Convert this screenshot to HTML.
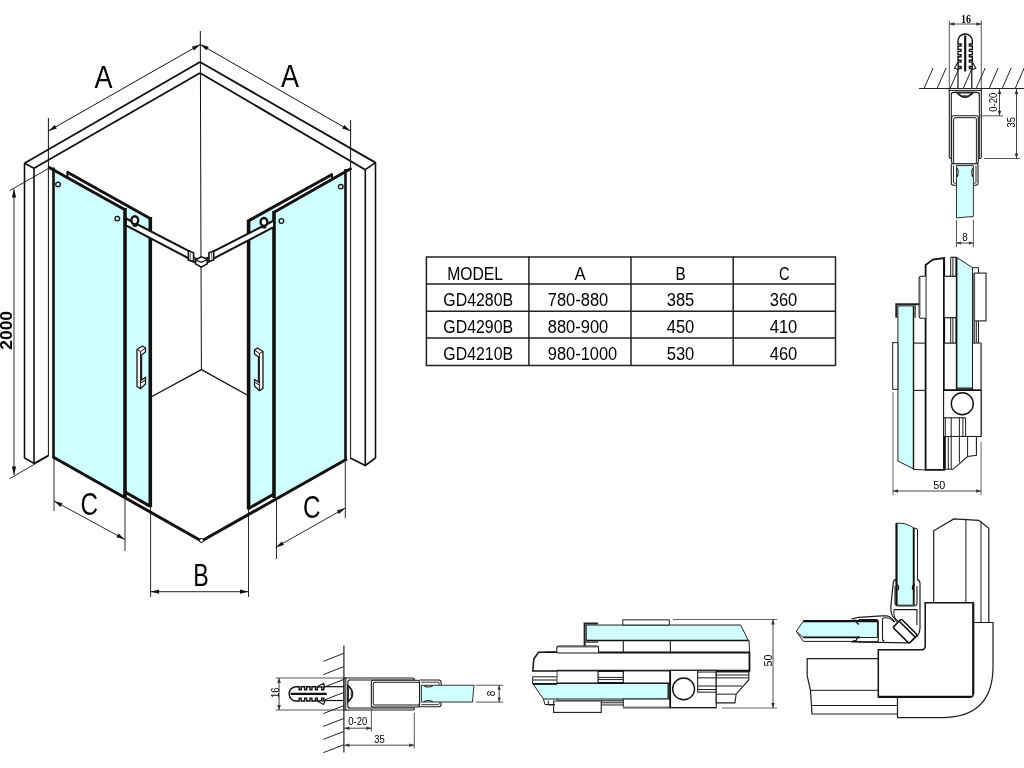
<!DOCTYPE html>
<html><head><meta charset="utf-8"><style>
html,body{margin:0;padding:0;background:#fff;width:1024px;height:768px;overflow:hidden}
svg{display:block;will-change:transform}
</style></head><body>
<svg width="1024" height="768" viewBox="0 0 1024 768" stroke-linecap="butt">
<line x1="24.5" y1="163.3" x2="200" y2="62" stroke="#111" stroke-width="1.8"/>
<line x1="34" y1="168.3" x2="200" y2="73" stroke="#111" stroke-width="1.8"/>
<line x1="24.5" y1="163.3" x2="34" y2="168.3" stroke="#111" stroke-width="1.6"/>
<line x1="24.5" y1="163.3" x2="24.5" y2="458" stroke="#111" stroke-width="1.6"/>
<line x1="34" y1="168.3" x2="34" y2="463.4" stroke="#111" stroke-width="1.6"/>
<polyline points="24.5,458 34,463.4 48.4,455.5" fill="none" stroke="#111" stroke-width="1.6" />
<line x1="375.5" y1="162.6" x2="200" y2="62" stroke="#111" stroke-width="1.8"/>
<line x1="365.3" y1="169.7" x2="200" y2="73" stroke="#111" stroke-width="1.8"/>
<line x1="365.3" y1="169.7" x2="375.5" y2="162.6" stroke="#111" stroke-width="1.6"/>
<line x1="375.5" y1="162.6" x2="375.5" y2="458" stroke="#111" stroke-width="1.6"/>
<line x1="365.3" y1="169.7" x2="365.3" y2="465.5" stroke="#111" stroke-width="1.6"/>
<polyline points="375.5,458 365.3,465.5 350.2,458" fill="none" stroke="#111" stroke-width="1.6" />
<line x1="48.4" y1="118" x2="48.4" y2="456" stroke="#111" stroke-width="1"/>
<line x1="350.6" y1="120" x2="350.6" y2="458" stroke="#111" stroke-width="1"/>
<line x1="200.3" y1="31" x2="200.98" y2="256.8" stroke="#111" stroke-width="1"/>
<line x1="201.04" y1="267" x2="201.4" y2="370" stroke="#111" stroke-width="1"/>
<line x1="201.4" y1="369.6" x2="151" y2="397" stroke="#111" stroke-width="1.4"/>
<line x1="201.4" y1="369.6" x2="249" y2="396" stroke="#111" stroke-width="1.4"/>
<polygon points="53,168 125,209.8 125,497 53,457" fill="#d0fdfd" stroke="none" stroke-width="0" />
<line x1="48.3" y1="167" x2="125" y2="209.8" stroke="#111" stroke-width="3"/>
<line x1="53.5" y1="167.5" x2="53.5" y2="458" stroke="#111" stroke-width="2.6"/>
<circle cx="58" cy="184.4" r="2.3" fill="none" stroke="#111" stroke-width="1.3"/>
<circle cx="117.3" cy="218.6" r="2.3" fill="none" stroke="#111" stroke-width="1.3"/>
<polygon points="125,203.5 150,217.6 150,506.5 125,492" fill="#d0fdfd" stroke="none" stroke-width="0" />
<line x1="67" y1="172" x2="151.5" y2="219.2" stroke="#111" stroke-width="3"/>
<line x1="67.5" y1="171" x2="67.5" y2="177" stroke="#111" stroke-width="2"/>
<line x1="125" y1="208" x2="125" y2="498" stroke="#111" stroke-width="3.6"/>
<line x1="150.3" y1="217" x2="150.3" y2="507" stroke="#111" stroke-width="3.6"/>
<line x1="125" y1="492" x2="150.3" y2="506.4" stroke="#111" stroke-width="3"/>
<path d="M137,349.5 L142.5,346 L145.5,348 L145.5,352 L141.5,355 L141.5,380 L145.5,377.5 L145.5,384 L140.6,388.6 L137,386.5 Z" fill="#f4f4f4" stroke="#1a1a1a" stroke-width="1.3" />
<path d="M137,349.5 L140.6,351.5 L145.5,348 M140.6,351.5 L140.6,388.6 M140.6,383 L145.5,380" fill="none" stroke="#1a1a1a" stroke-width="1" />
<polygon points="274.6,212 345.5,171 345.5,459 274.6,498.3" fill="#d0fdfd" stroke="none" stroke-width="0" />
<line x1="274" y1="212.2" x2="351.5" y2="168.2" stroke="#111" stroke-width="3"/>
<line x1="345.5" y1="169" x2="345.5" y2="459.5" stroke="#111" stroke-width="2.6"/>
<circle cx="340.8" cy="186.6" r="2.3" fill="none" stroke="#111" stroke-width="1.3"/>
<circle cx="281.4" cy="221" r="2.3" fill="none" stroke="#111" stroke-width="1.3"/>
<polygon points="274,205.5 248.6,220 248.6,509 274,494" fill="#d0fdfd" stroke="none" stroke-width="0" />
<line x1="332.5" y1="174.2" x2="247.5" y2="221.4" stroke="#111" stroke-width="3"/>
<line x1="332" y1="173.5" x2="332" y2="179" stroke="#111" stroke-width="2"/>
<line x1="274" y1="211" x2="274" y2="498" stroke="#111" stroke-width="3.6"/>
<line x1="248.6" y1="220" x2="248.6" y2="509.5" stroke="#111" stroke-width="3.6"/>
<line x1="248.6" y1="508.5" x2="274" y2="494" stroke="#111" stroke-width="3"/>
<path d="M263,351.5 L257.5,348 L254.5,350 L254.5,354 L258.5,357 L258.5,382 L254.5,379.5 L254.5,386 L259.4,390.6 L263,388.5 Z" fill="#f4f4f4" stroke="#1a1a1a" stroke-width="1.3" />
<path d="M263,351.5 L259.4,353.5 L254.5,350 M259.4,353.5 L259.4,390.6 M259.4,385 L254.5,382" fill="none" stroke="#1a1a1a" stroke-width="1" />
<polygon points="126,218.5 189,251 189,258.5 126,225.5" fill="#fff" stroke="#111" stroke-width="2.0" />
<polygon points="274,220.5 213,251.5 213,258.8 274,227" fill="#fff" stroke="#111" stroke-width="2.0" />
<ellipse cx="134.8" cy="220.3" rx="3.4" ry="4.0" fill="#fff" stroke="#111" stroke-width="2.4"/>
<ellipse cx="264" cy="222" rx="3.4" ry="4.0" fill="#fff" stroke="#111" stroke-width="2.4"/>
<ellipse cx="135" cy="225.5" rx="2.5" ry="1.6" fill="#111"/>
<ellipse cx="264" cy="227" rx="2.5" ry="1.6" fill="#111"/>
<polygon points="192.5,256.5 196,258.5 196,263 192.5,261.5" fill="#fff" stroke="#111" stroke-width="1.4" />
<polygon points="209.5,256.5 206,258.5 206,263 209.5,261.5" fill="#fff" stroke="#111" stroke-width="1.4" />
<polygon points="188.4,250.8 193.6,252.7 193.6,261.6 188.4,260.1" fill="#fff" stroke="#111" stroke-width="1.6" />
<polygon points="213.7,251 209,252.7 209,261.6 213.7,260" fill="#fff" stroke="#111" stroke-width="1.6" />
<line x1="190.5" y1="253" x2="190.5" y2="259.5" stroke="#777" stroke-width="1.2"/>
<line x1="211.6" y1="253" x2="211.6" y2="259.5" stroke="#777" stroke-width="1.2"/>
<polygon points="195.5,259.7 201.3,256.8 207.2,258.9 207.2,263.9 201.3,267.2 195.5,263.9" fill="#fff" stroke="#111" stroke-width="1.6" />
<polyline points="195.5,259.7 201.3,262.4 207.2,259.5" fill="none" stroke="#111" stroke-width="1.2" />
<polyline points="53,457 201.5,541 347,459" fill="none" stroke="#111" stroke-width="3" />
<circle cx="201.5" cy="540.5" r="2" fill="#fff" stroke="#111" stroke-width="1"/>
<line x1="48.4" y1="131" x2="200.3" y2="44.4" stroke="#111" stroke-width="1"/>
<polygon points="48.4,131.0 54.7,125.0 56.8,128.6" fill="#111"/>
<polygon points="200.3,44.4 194.0,50.4 191.9,46.8" fill="#111"/>
<line x1="200.3" y1="44.4" x2="350.6" y2="131" stroke="#111" stroke-width="1"/>
<polygon points="200.3,44.4 208.7,46.8 206.6,50.5" fill="#111"/>
<polygon points="350.6,131.0 342.2,128.6 344.3,124.9" fill="#111"/>
<text x="103.5" y="87.6" font-family="Liberation Sans" font-size="31" font-weight="normal" text-anchor="middle" fill="#000" textLength="18" lengthAdjust="spacingAndGlyphs">A</text>
<text x="290" y="87.4" font-family="Liberation Sans" font-size="31" font-weight="normal" text-anchor="middle" fill="#000" textLength="18" lengthAdjust="spacingAndGlyphs">A</text>
<line x1="9.7" y1="190.6" x2="48.4" y2="168.5" stroke="#111" stroke-width="0.9"/>
<line x1="9.7" y1="478.6" x2="48.4" y2="456.2" stroke="#111" stroke-width="0.9"/>
<line x1="14" y1="189" x2="14" y2="475" stroke="#111" stroke-width="0.9"/>
<polygon points="14.0,189.0 16.1,197.5 11.9,197.5" fill="#111"/>
<polygon points="14.0,475.0 11.9,466.5 16.1,466.5" fill="#111"/>
<text x="11.8" y="330.3" font-family="Liberation Sans" font-size="17" font-weight="bold" text-anchor="middle" fill="#000" textLength="38.7" lengthAdjust="spacingAndGlyphs" transform="rotate(-90 11.8 330.3)">2000</text>
<line x1="54" y1="458" x2="54" y2="511" stroke="#111" stroke-width="0.9"/>
<line x1="125" y1="497" x2="125" y2="551" stroke="#111" stroke-width="0.9"/>
<line x1="54" y1="501" x2="125" y2="539.5" stroke="#111" stroke-width="0.9"/>
<polygon points="54.0,501.0 62.5,503.2 60.5,506.9" fill="#111"/>
<polygon points="125.0,539.5 116.5,537.3 118.5,533.6" fill="#111"/>
<text x="89.3" y="515.3" font-family="Liberation Sans" font-size="31" font-weight="normal" text-anchor="middle" fill="#000" textLength="17.5" lengthAdjust="spacingAndGlyphs">C</text>
<line x1="150.6" y1="507" x2="150.6" y2="597" stroke="#111" stroke-width="0.9"/>
<line x1="248.5" y1="509" x2="248.5" y2="597" stroke="#111" stroke-width="0.9"/>
<line x1="150.6" y1="591.7" x2="248.5" y2="591.7" stroke="#111" stroke-width="0.9"/>
<polygon points="150.6,591.7 159.1,589.6 159.1,593.8" fill="#111"/>
<polygon points="248.5,591.7 240.0,593.8 240.0,589.6" fill="#111"/>
<text x="201" y="586" font-family="Liberation Sans" font-size="31" font-weight="normal" text-anchor="middle" fill="#000" textLength="15.5" lengthAdjust="spacingAndGlyphs">B</text>
<line x1="345.3" y1="462" x2="345.3" y2="518" stroke="#111" stroke-width="0.9"/>
<line x1="276.5" y1="500" x2="276.5" y2="559" stroke="#111" stroke-width="0.9"/>
<line x1="345.3" y1="508" x2="275.5" y2="547.5" stroke="#111" stroke-width="0.9"/>
<polygon points="345.3,508.0 338.9,514.0 336.9,510.4" fill="#111"/>
<polygon points="275.5,547.5 281.9,541.5 283.9,545.1" fill="#111"/>
<text x="311.8" y="518.4" font-family="Liberation Sans" font-size="31" font-weight="normal" text-anchor="middle" fill="#000" textLength="17.5" lengthAdjust="spacingAndGlyphs">C</text>
<line x1="426.4" y1="256.40000000000003" x2="426.4" y2="366.09999999999997" stroke="#222" stroke-width="1.5"/>
<line x1="528.9" y1="256.40000000000003" x2="528.9" y2="366.09999999999997" stroke="#222" stroke-width="1.5"/>
<line x1="631" y1="256.40000000000003" x2="631" y2="366.09999999999997" stroke="#222" stroke-width="1.5"/>
<line x1="733.2" y1="256.40000000000003" x2="733.2" y2="366.09999999999997" stroke="#222" stroke-width="1.5"/>
<line x1="835.5" y1="256.40000000000003" x2="835.5" y2="366.09999999999997" stroke="#222" stroke-width="1.5"/>
<line x1="426.4" y1="257.1" x2="835.5" y2="257.1" stroke="#222" stroke-width="1.5"/>
<line x1="426.4" y1="284" x2="835.5" y2="284" stroke="#222" stroke-width="1.5"/>
<line x1="426.4" y1="311.2" x2="835.5" y2="311.2" stroke="#222" stroke-width="1.5"/>
<line x1="426.4" y1="338.1" x2="835.5" y2="338.1" stroke="#222" stroke-width="1.5"/>
<line x1="426.4" y1="365.4" x2="835.5" y2="365.4" stroke="#222" stroke-width="1.5"/>
<text x="475.1" y="280.1" font-family="Liberation Sans" font-size="18" font-weight="normal" text-anchor="middle" fill="#000" textLength="55.8" lengthAdjust="spacingAndGlyphs">MODEL</text>
<text x="580" y="280.1" font-family="Liberation Sans" font-size="18" font-weight="normal" text-anchor="middle" fill="#000" textLength="11.2" lengthAdjust="spacingAndGlyphs">A</text>
<text x="680.6" y="280.1" font-family="Liberation Sans" font-size="18" font-weight="normal" text-anchor="middle" fill="#000" textLength="10.2" lengthAdjust="spacingAndGlyphs">B</text>
<text x="784.2" y="280.1" font-family="Liberation Sans" font-size="18" font-weight="normal" text-anchor="middle" fill="#000" textLength="10.6" lengthAdjust="spacingAndGlyphs">C</text>
<text x="478.2" y="306.3" font-family="Liberation Sans" font-size="18" font-weight="normal" text-anchor="middle" fill="#000" textLength="69.8" lengthAdjust="spacingAndGlyphs">GD4280B</text>
<text x="578" y="306.3" font-family="Liberation Sans" font-size="18" font-weight="normal" text-anchor="middle" fill="#000" textLength="60.5" lengthAdjust="spacingAndGlyphs">780-880</text>
<text x="680.5" y="306.3" font-family="Liberation Sans" font-size="18" font-weight="normal" text-anchor="middle" fill="#000" textLength="27.6" lengthAdjust="spacingAndGlyphs">385</text>
<text x="783.5" y="306.3" font-family="Liberation Sans" font-size="18" font-weight="normal" text-anchor="middle" fill="#000" textLength="27.6" lengthAdjust="spacingAndGlyphs">360</text>
<text x="478.2" y="332.9" font-family="Liberation Sans" font-size="18" font-weight="normal" text-anchor="middle" fill="#000" textLength="69.8" lengthAdjust="spacingAndGlyphs">GD4290B</text>
<text x="578" y="332.9" font-family="Liberation Sans" font-size="18" font-weight="normal" text-anchor="middle" fill="#000" textLength="60.5" lengthAdjust="spacingAndGlyphs">880-900</text>
<text x="680.5" y="332.9" font-family="Liberation Sans" font-size="18" font-weight="normal" text-anchor="middle" fill="#000" textLength="27.6" lengthAdjust="spacingAndGlyphs">450</text>
<text x="783.5" y="332.9" font-family="Liberation Sans" font-size="18" font-weight="normal" text-anchor="middle" fill="#000" textLength="27.6" lengthAdjust="spacingAndGlyphs">410</text>
<text x="478.2" y="359.6" font-family="Liberation Sans" font-size="18" font-weight="normal" text-anchor="middle" fill="#000" textLength="69.8" lengthAdjust="spacingAndGlyphs">GD4210B</text>
<text x="582.5" y="359.6" font-family="Liberation Sans" font-size="18" font-weight="normal" text-anchor="middle" fill="#000" textLength="69.5" lengthAdjust="spacingAndGlyphs">980-1000</text>
<text x="680.5" y="359.6" font-family="Liberation Sans" font-size="18" font-weight="normal" text-anchor="middle" fill="#000" textLength="27.6" lengthAdjust="spacingAndGlyphs">530</text>
<text x="783.5" y="359.6" font-family="Liberation Sans" font-size="18" font-weight="normal" text-anchor="middle" fill="#000" textLength="27.6" lengthAdjust="spacingAndGlyphs">460</text>
<defs>
<g id="d1">
<line x1="949.3" y1="20.8" x2="949.3" y2="88.5" stroke="#444" stroke-width="0.9"/>
<line x1="981.3" y1="20.8" x2="981.3" y2="88.5" stroke="#444" stroke-width="0.9"/>
<line x1="949.3" y1="24" x2="981.3" y2="24" stroke="#333" stroke-width="0.9"/>
<polygon points="949.3,24.0 954.3,22.2 954.3,25.8" fill="#333"/>
<polygon points="981.3,24.0 976.3,25.8 976.3,22.2" fill="#333"/>
<path d="M958,70 L958,68.5 L961,68.5 L961,66.5 L958,66.5 L958,62.1 L961,62.1 L961,60.2 L958,60.2 L958,56.7 L961,56.7 L961,54.8 L958,54.8 L958,51.4 L961,51.4 L961,49.4 L958,49.4 L958,46 L961,46 L961,44 L958,44 L958,41.1 A7.15,7.15 0 0 1 972.3,41.1 L972.3,44 L969.4,44 L969.4,46 L972.3,46 L972.3,49.4 L969.4,49.4 L969.4,51.4 L972.3,51.4 L972.3,54.8 L969.4,54.8 L969.4,56.7 L972.3,56.7 L972.3,60.2 L969.4,60.2 L969.4,62.1 L972.3,62.1 L972.3,66.5 L969.4,66.5 L969.4,68.5 L972.3,68.5 L972.3,70" fill="#fff" stroke="#111" stroke-width="1.4" />
<line x1="965.2" y1="35.5" x2="965.2" y2="71.4" stroke="#111" stroke-width="2.2"/>
<polygon points="958,62 954.5,68.3 958,69.5" fill="#fff" stroke="#1c1c1c" stroke-width="1.1" />
<polygon points="972.3,62 975.8,68.3 972.3,69.5" fill="#fff" stroke="#1c1c1c" stroke-width="1.1" />
<line x1="958" y1="70" x2="958" y2="88.5" stroke="#111" stroke-width="1.2"/>
<line x1="971.8" y1="70" x2="971.8" y2="88.5" stroke="#111" stroke-width="1.2"/>
<path d="M949.3,88.5 L949.3,157 Q949.3,158.5 950.3,158.5 L951.3,158.5 L951.3,93.5" fill="none" stroke="#1c1c1c" stroke-width="1.1" />
<path d="M981.3,88.5 L981.3,157 Q981.3,158.5 980.3,158.5 L979.3,158.5 L979.3,93.5" fill="none" stroke="#1c1c1c" stroke-width="1.1" />
<rect x="949.3" y="88.5" width="32" height="1.9" rx="0" fill="#fff" stroke="#1c1c1c" stroke-width="1"/>
<path d="M951.3,94.5 Q951.3,92.4 953.3,92.4 L977.3,92.4 Q979.3,92.4 979.3,94.5" fill="none" stroke="#1c1c1c" stroke-width="1.1" />
<path d="M957,92.6 Q965,101.5 973,92.6 Z" fill="#fff" stroke="#222" stroke-width="1.8" />
<path d="M961,96.5 Q965,94.5 969,96.5" fill="none" stroke="#1c1c1c" stroke-width="0.8" />
<rect x="951.6" y="115.8" width="26.7" height="48" rx="2" fill="#fff" stroke="#1c1c1c" stroke-width="1.1"/>
<rect x="953.6" y="117.7" width="22.8" height="46" rx="1.5" fill="#fff" stroke="#1c1c1c" stroke-width="1"/>
<path d="M951.3,163.7 L951.3,183 Q951.3,185.2 953.5,185.2 L956.5,185.2 M973.4,185.2 L975.8,185.2 Q978,185.2 978,183 L978,163.7" fill="none" stroke="#1c1c1c" stroke-width="1.1" />
<path d="M953.5,165.5 L953.5,182 Q953.5,183.2 954.5,183.2 L956.5,183.2 M973.4,183.2 L975,183.2 Q976,183.2 976,182 L976,165.5" fill="none" stroke="#1c1c1c" stroke-width="0.9" />
<path d="M956.5,165.6 L973.4,165.6 L973.4,216.5 Q965,217 956.5,218 Z" fill="#d0fdfd" stroke="#333" stroke-width="1" />
<path d="M957,168 Q959.5,172 957,177 M973,168 Q970.5,172 973,177" fill="none" stroke="#222" stroke-width="1.1" />
<line x1="980" y1="115.8" x2="1003" y2="115.8" stroke="#444" stroke-width="0.9"/>
<line x1="999.5" y1="89" x2="999.5" y2="115.8" stroke="#333" stroke-width="0.9"/>
<polygon points="999.5,89.0 1001.3,94.0 997.7,94.0" fill="#333"/>
<polygon points="999.5,115.8 997.7,110.8 1001.3,110.8" fill="#333"/>
<line x1="984" y1="158.5" x2="1020" y2="158.5" stroke="#444" stroke-width="0.9"/>
<line x1="1016.5" y1="89" x2="1016.5" y2="158.5" stroke="#333" stroke-width="0.9"/>
<polygon points="1016.5,89.0 1018.3,94.0 1014.7,94.0" fill="#333"/>
<polygon points="1016.5,158.5 1014.7,153.5 1018.3,153.5" fill="#333"/>
<line x1="956.5" y1="220" x2="956.5" y2="247" stroke="#444" stroke-width="0.9"/>
<line x1="973.4" y1="220" x2="973.4" y2="247" stroke="#444" stroke-width="0.9"/>
<line x1="956.5" y1="243" x2="973.4" y2="243" stroke="#333" stroke-width="0.9"/>
<polygon points="956.5,243.0 961.0,241.4 961.0,244.6" fill="#333"/>
<polygon points="973.4,243.0 968.9,244.6 968.9,241.4" fill="#333"/>
</g>
<g id="d2">
<path d="M925.6,469.9 L925.6,265 L932.8,259.5 L944.1,258.1 L944.1,469.9 Z" fill="#fff" stroke="#111" stroke-width="1.8" />
<line x1="944.1" y1="258.1" x2="944.1" y2="469.9" stroke="#111" stroke-width="2"/>
<path d="M956.4,257.3 L972.5,267.7 L972.5,388 L956.4,388 Z" fill="#d0fdfd" stroke="#222" stroke-width="1" />
<line x1="956.4" y1="257.3" x2="956.4" y2="388" stroke="#111" stroke-width="2"/>
<path d="M955.4,375.3 L955.4,389 L974,389 L974,375.3" fill="none" stroke="#222" stroke-width="1.6" />
<line x1="950.7" y1="257.3" x2="950.7" y2="276.3" stroke="#1c1c1c" stroke-width="1"/>
<line x1="952.9" y1="257.3" x2="952.9" y2="276.3" stroke="#1c1c1c" stroke-width="1"/>
<line x1="950.7" y1="257.3" x2="956.4" y2="257.3" stroke="#1c1c1c" stroke-width="1.2"/>
<rect x="944.1" y="276.3" width="12.3" height="41.4" rx="0" fill="#fff" stroke="#1c1c1c" stroke-width="1.2"/>
<line x1="950.7" y1="317.7" x2="950.7" y2="343.1" stroke="#1c1c1c" stroke-width="1"/>
<line x1="952.9" y1="317.7" x2="952.9" y2="343.1" stroke="#1c1c1c" stroke-width="1"/>
<rect x="944.1" y="343.1" width="12.3" height="47" rx="0" fill="#fff" stroke="#1c1c1c" stroke-width="1.2"/>
<path d="M972.5,267.7 L978.5,267.7 L978.5,273.1" fill="none" stroke="#1c1c1c" stroke-width="1" />
<rect x="974.2" y="273.1" width="11.8" height="47.8" rx="0" fill="#fff" stroke="#1c1c1c" stroke-width="1.1"/>
<line x1="974.2" y1="273.1" x2="974.2" y2="343" stroke="#555" stroke-width="1.8"/>
<line x1="976.3" y1="320.9" x2="976.3" y2="343.1" stroke="#1c1c1c" stroke-width="1"/>
<line x1="978.5" y1="320.9" x2="978.5" y2="343.1" stroke="#1c1c1c" stroke-width="1"/>
<rect x="972.5" y="343.1" width="8.8" height="47.2" rx="0" fill="#fff" stroke="#1c1c1c" stroke-width="1"/>
<line x1="981.1" y1="343.1" x2="981.1" y2="436.5" stroke="#777" stroke-width="2"/>
<rect x="943.6" y="390.3" width="37.5" height="46.2" rx="0" fill="#fff" stroke="#1c1c1c" stroke-width="1.1"/>
<line x1="944.1" y1="390.3" x2="981.1" y2="390.3" stroke="#111" stroke-width="1.6"/>
<circle cx="962.3" cy="403.7" r="11" fill="#fff" stroke="#111" stroke-width="1.4"/>
<line x1="943.6" y1="417.8" x2="965.6" y2="417.8" stroke="#1c1c1c" stroke-width="1.1"/>
<line x1="945.3" y1="417.8" x2="945.3" y2="436.5" stroke="#1c1c1c" stroke-width="1"/>
<line x1="951.2" y1="417.8" x2="951.2" y2="436.5" stroke="#1c1c1c" stroke-width="1"/>
<line x1="959.4" y1="417.8" x2="959.4" y2="436.5" stroke="#1c1c1c" stroke-width="1"/>
<line x1="962.9" y1="417.8" x2="962.9" y2="436.5" stroke="#1c1c1c" stroke-width="1"/>
<line x1="965.6" y1="417.8" x2="965.6" y2="436.5" stroke="#1c1c1c" stroke-width="1"/>
<path d="M945.3,436.5 L945.3,469.3 L953,469.3 L967.6,456.5 L976.4,455.3 L976.4,436.5 Z" fill="#fff" stroke="#1c1c1c" stroke-width="1.1" />
<line x1="948.3" y1="436.5" x2="948.3" y2="469.3" stroke="#1c1c1c" stroke-width="1"/>
<line x1="951.2" y1="436.5" x2="951.2" y2="469" stroke="#1c1c1c" stroke-width="1"/>
<line x1="959.4" y1="436.5" x2="959.4" y2="462.5" stroke="#1c1c1c" stroke-width="1"/>
<line x1="967.6" y1="436.5" x2="967.6" y2="456.5" stroke="#1c1c1c" stroke-width="1"/>
<path d="M925.6,276.3 L921,276.3 Q919.2,276.3 919.2,278.5 L919.2,316 Q919.2,318.2 921,318.2 L925.6,318.2" fill="#fff" stroke="#1c1c1c" stroke-width="1.1" />
<line x1="919.6" y1="278" x2="919.6" y2="316" stroke="#666" stroke-width="1.8"/>
<path d="M897.9,305.9 L913.5,305.9 L913.5,468.8 L897.9,461.1 Z" fill="#d0fdfd" stroke="#222" stroke-width="1" />
<line x1="913.5" y1="305.9" x2="913.5" y2="469" stroke="#111" stroke-width="1.4"/>
<path d="M896.3,317.7 L896.3,304.2 L919.2,304.2" fill="none" stroke="#222" stroke-width="2" />
<line x1="915.1" y1="304.2" x2="915.1" y2="317.7" stroke="#1c1c1c" stroke-width="1.2"/>
<line x1="913.5" y1="343.1" x2="925.6" y2="343.1" stroke="#1c1c1c" stroke-width="1.1"/>
<line x1="913.5" y1="390.4" x2="925.6" y2="390.4" stroke="#1c1c1c" stroke-width="1.1"/>
<path d="M913.1,469.5 L925.6,469.9" fill="none" stroke="#1c1c1c" stroke-width="1" />
<rect x="892.7" y="342.6" width="5.2" height="46.7" rx="0" fill="#fff" stroke="#1c1c1c" stroke-width="1"/>
</g>
</defs>
<use href="#d1"/>
<use href="#d2"/>
<use href="#d1" transform="matrix(0,1,1.005,0,254.96,-271.3)"/>
<use href="#d2" transform="matrix(0,0.992,0.9948,0,282.0,-265.7)"/>
<rect x="528" y="653.5" width="28.5" height="47" rx="0" fill="#fff" stroke="none" stroke-width="0"/>
<path d="M557,652.3 L538.5,652.3 L533.8,659 L532.8,671 L557,671" fill="#fff" stroke="#111" stroke-width="1.5" />
<path d="M557,676.8 L532.6,676.8 L532.6,683.8 L557,683.8 M532.6,680 L557,680" fill="none" stroke="#1c1c1c" stroke-width="1" />
<path d="M533,684 L558,684 L558,699 L543.4,699 Z" fill="#d0fdfd" stroke="none" stroke-width="0" />
<path d="M558,699 L543.4,699 L533,684" fill="none" stroke="#222" stroke-width="1" />
<line x1="533" y1="684" x2="557" y2="684" stroke="#111" stroke-width="1.8"/>
<path d="M543.4,699 L545,704.5 L555,704.5" fill="none" stroke="#1c1c1c" stroke-width="1" />
<line x1="919" y1="88.5" x2="1024" y2="88.5" stroke="#222" stroke-width="1.2"/>
<line x1="924.3" y1="88" x2="933.0999999999999" y2="68" stroke="#222" stroke-width="1"/>
<line x1="937.3" y1="88" x2="946.0999999999999" y2="68" stroke="#222" stroke-width="1"/>
<line x1="950.3" y1="88" x2="959.0999999999999" y2="68" stroke="#222" stroke-width="1"/>
<line x1="963.4" y1="88" x2="972.1999999999999" y2="68" stroke="#222" stroke-width="1"/>
<line x1="976.4" y1="88" x2="985.1999999999999" y2="68" stroke="#222" stroke-width="1"/>
<line x1="989.4" y1="88" x2="998.1999999999999" y2="68" stroke="#222" stroke-width="1"/>
<line x1="1002.4" y1="88" x2="1011.1999999999999" y2="68" stroke="#222" stroke-width="1"/>
<line x1="1015.4" y1="88" x2="1024.2" y2="68" stroke="#222" stroke-width="1"/>
<text x="966" y="22.8" font-family="Liberation Serif" font-size="11.5" font-weight="bold" text-anchor="middle" fill="#000" textLength="10" lengthAdjust="spacingAndGlyphs">16</text>
<text x="997.3" y="102.2" font-family="Liberation Sans" font-size="10.5" font-weight="normal" text-anchor="middle" fill="#000" textLength="19" lengthAdjust="spacingAndGlyphs" transform="rotate(-90 997.3 102.2)">0-20</text>
<text x="1015.3" y="122.3" font-family="Liberation Sans" font-size="10.5" font-weight="normal" text-anchor="middle" fill="#000" textLength="10.5" lengthAdjust="spacingAndGlyphs" transform="rotate(-90 1015.3 122.3)">35</text>
<text x="965" y="240.5" font-family="Liberation Sans" font-size="10.5" font-weight="normal" text-anchor="middle" fill="#000" textLength="5.5" lengthAdjust="spacingAndGlyphs">8</text>
<line x1="343.9" y1="645.5" x2="343.9" y2="752.5" stroke="#222" stroke-width="1.2"/>
<line x1="343.9" y1="653.3" x2="323.3" y2="661.3" stroke="#222" stroke-width="1"/>
<line x1="343.9" y1="666.6" x2="323.3" y2="674.6" stroke="#222" stroke-width="1"/>
<line x1="343.9" y1="679.4" x2="323.3" y2="687.4" stroke="#222" stroke-width="1"/>
<line x1="343.9" y1="692.4" x2="323.3" y2="700.4" stroke="#222" stroke-width="1"/>
<line x1="343.9" y1="705.6" x2="323.3" y2="713.6" stroke="#222" stroke-width="1"/>
<line x1="343.9" y1="718.4" x2="323.3" y2="726.4" stroke="#222" stroke-width="1"/>
<line x1="343.9" y1="731.4" x2="323.3" y2="739.4" stroke="#222" stroke-width="1"/>
<line x1="343.9" y1="744.7" x2="323.3" y2="752.7" stroke="#222" stroke-width="1"/>
<text x="279.5" y="692.8" font-family="Liberation Sans" font-size="10.5" font-weight="normal" text-anchor="middle" fill="#000" textLength="10.5" lengthAdjust="spacingAndGlyphs" transform="rotate(-90 279.5 692.8)">16</text>
<text x="357.7" y="725.2" font-family="Liberation Sans" font-size="10.5" font-weight="normal" text-anchor="middle" fill="#000" textLength="19" lengthAdjust="spacingAndGlyphs">0-20</text>
<text x="379.5" y="743.2" font-family="Liberation Sans" font-size="10.5" font-weight="normal" text-anchor="middle" fill="#000" textLength="10.5" lengthAdjust="spacingAndGlyphs">35</text>
<text x="494.5" y="693.5" font-family="Liberation Sans" font-size="10.5" font-weight="normal" text-anchor="middle" fill="#000" textLength="5.5" lengthAdjust="spacingAndGlyphs" transform="rotate(-90 494.5 693.5)">8</text>
<line x1="893" y1="392" x2="893" y2="495" stroke="#555" stroke-width="0.9"/>
<line x1="981.1" y1="442" x2="981.1" y2="495" stroke="#555" stroke-width="0.9"/>
<line x1="893" y1="491" x2="981.1" y2="491" stroke="#333" stroke-width="0.9"/>
<polygon points="893.0,491.0 898.0,489.2 898.0,492.8" fill="#333"/>
<polygon points="981.1,491.0 976.1,492.8 976.1,489.2" fill="#333"/>
<text x="939.2" y="489.3" font-family="Liberation Sans" font-size="11" font-weight="normal" text-anchor="middle" fill="#000" textLength="12" lengthAdjust="spacingAndGlyphs">50</text>
<line x1="673" y1="619.5" x2="777" y2="619.5" stroke="#555" stroke-width="0.9"/>
<line x1="722" y1="708" x2="777" y2="708" stroke="#555" stroke-width="0.9"/>
<line x1="773" y1="619.5" x2="773" y2="708" stroke="#333" stroke-width="0.9"/>
<polygon points="773.0,619.5 774.8,624.5 771.2,624.5" fill="#333"/>
<polygon points="773.0,708.0 771.2,703.0 774.8,703.0" fill="#333"/>
<text x="772" y="660.6" font-family="Liberation Sans" font-size="11" font-weight="normal" text-anchor="middle" fill="#000" textLength="12" lengthAdjust="spacingAndGlyphs" transform="rotate(-90 772 660.6)">50</text>
<path d="M933.7,602.8 L933.7,530.8 L953.8,518.9 L978.8,520.3 L988.8,528.3 L988.8,622.5" fill="#fff" stroke="#1c1c1c" stroke-width="1.2" />
<line x1="965.9" y1="519.5" x2="965.9" y2="602.8" stroke="#1c1c1c" stroke-width="1"/>
<line x1="981" y1="521" x2="981" y2="622.5" stroke="#1c1c1c" stroke-width="1"/>
<path d="M878.3,658.6 L807.2,658.6 L807.2,676 L810.5,690.3 L812,714 L897.5,714" fill="#fff" stroke="#1c1c1c" stroke-width="1.2" />
<line x1="810.5" y1="690.3" x2="878.3" y2="690.3" stroke="#1c1c1c" stroke-width="1"/>
<line x1="811.5" y1="705.5" x2="897.5" y2="705.5" stroke="#1c1c1c" stroke-width="1"/>
<path d="M973.3,622.5 L993,622.5 L993,666.6 Q993,717.6 942,717.6 L897.5,717.6 L897.5,696.7" fill="#fff" stroke="#1c1c1c" stroke-width="1.2" />
<path d="M925.2,602.8 L973.3,602.8 L973.3,694 Q973.3,696.9 970.5,696.9 L878.3,696.9 L878.3,649.7 L921.5,649.7 Q925.2,649.7 925.2,646 Z" fill="#fff" stroke="#111" stroke-width="1.5" />
<line x1="878.3" y1="696.9" x2="971" y2="696.9" stroke="#111" stroke-width="2.2"/>
<line x1="973.3" y1="604" x2="973.3" y2="694" stroke="#111" stroke-width="2"/>
<path d="M896.5,523.2 Q906,522.5 913.7,527.9 L913.7,605.2 L896.5,605.2 Z" fill="#d0fdfd" stroke="#222" stroke-width="1" />
<line x1="896.5" y1="523.2" x2="896.5" y2="605" stroke="#111" stroke-width="2.2"/>
<line x1="913.7" y1="527.9" x2="913.7" y2="605" stroke="#111" stroke-width="1.8"/>
<path d="M913.7,527.9 L917.5,529 L917.5,580" fill="none" stroke="#1c1c1c" stroke-width="1" />
<path d="M901.25,626.25 Q896,621 892.4,616 Q890.6,612 890.8,607 L892.4,590.8 L893.4,582 Q894,579.4 896.5,579.4" fill="none" stroke="#1a1a1a" stroke-width="1.2" />
<path d="M916.9,579.4 Q919.5,580 920,583 L920,628.3 Q920,633 917,636.7" fill="none" stroke="#1a1a1a" stroke-width="1.2" />
<path d="M895,586 L895,602.5 Q895,606 898.5,606 L913.5,606 Q917,606 917,602.5 L917,586" fill="none" stroke="#1a1a1a" stroke-width="1.1" />
<path d="M894,609.6 L916.9,609.6 L916.9,625" fill="none" stroke="#1a1a1a" stroke-width="1.1" />
<path d="M894,609.6 Q893,614 895,618 L900,623" fill="none" stroke="#1a1a1a" stroke-width="1" />
<path d="M896,585 Q899,584 898.5,589 L896.8,590.5 M915,585 Q912,584 912.5,589 L914.2,590.5" fill="none" stroke="#111" stroke-width="1.2" />
<path d="M796.3,631.2 L803.3,621.1 L877.5,621.1 L877.5,637.5 L803.3,637.5 Z" fill="#d0fdfd" stroke="#222" stroke-width="1" />
<line x1="803.3" y1="621.1" x2="877.5" y2="621.1" stroke="#111" stroke-width="2.2"/>
<line x1="803.3" y1="637.3" x2="860" y2="637.3" stroke="#111" stroke-width="1.8"/>
<path d="M796.3,631.2 L803.3,641.4 L860,641.4" fill="none" stroke="#1c1c1c" stroke-width="1" />
<path d="M851.25,619 L858.5,617.4 L881.5,615.8 L886.7,615.8 Q889.5,616 890.8,617.9 L895,622" fill="none" stroke="#1a1a1a" stroke-width="1.2" />
<path d="M851.25,641.9 L907.5,642.9 L909.6,641.9" fill="none" stroke="#1a1a1a" stroke-width="1.2" />
<path d="M858.5,619.5 L876.3,619.5 Q878.3,619.5 878.3,621.5 L878.3,639.9 Q878.3,641.9 876.3,641.9 L858.5,641.9" fill="none" stroke="#1a1a1a" stroke-width="1.1" />
<path d="M884.5,617.6 Q882.5,618 882.5,620 L882.5,639 Q882.5,641 884.5,641" fill="none" stroke="#1a1a1a" stroke-width="1.1" />
<path d="M884.5,617.6 Q890,617 894,622" fill="none" stroke="#1a1a1a" stroke-width="1" />
<path d="M853,620.5 Q856.5,619 857,623 L859,624.5 M853,640.5 Q856.5,642 857,638 L859,636.5" fill="none" stroke="#111" stroke-width="1.3" />
<g transform="rotate(44.8 905.2 631.2)"><rect x="893.8" y="625.25" width="22.8" height="11.9" rx="1.5" fill="#fff" stroke="#111" stroke-width="1.6"/><line x1="894.3" y1="628.3" x2="916.1" y2="628.3" stroke="#111" stroke-width="1.6"/></g>
</svg></body></html>
